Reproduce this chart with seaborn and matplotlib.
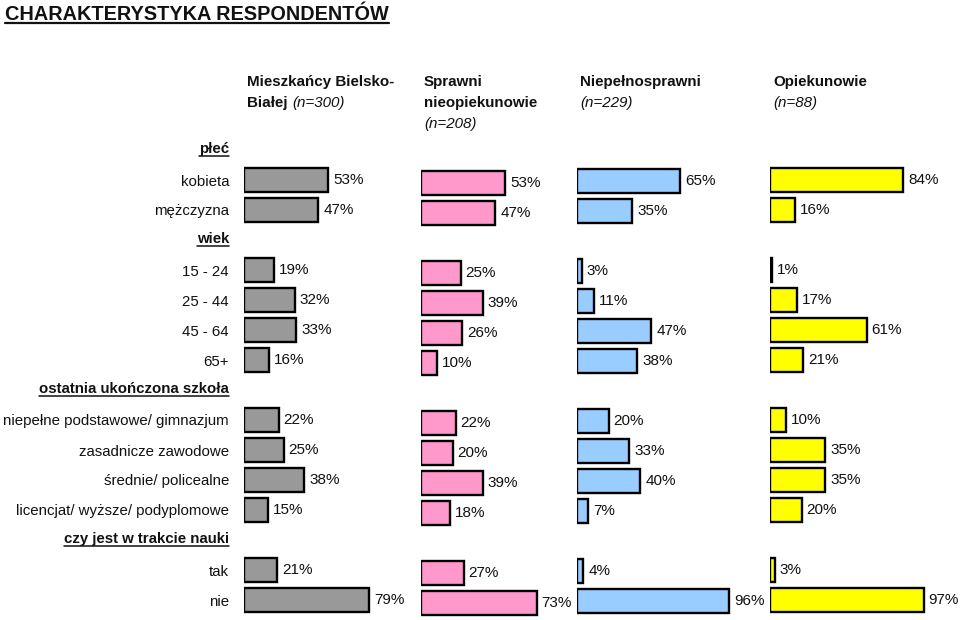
import matplotlib
matplotlib.use("Agg")
import matplotlib.pyplot as plt
import seaborn as sns
import pandas as pd
from matplotlib.lines import Line2D

sns.set_style("white")
plt.rcParams['font.family'] = ['Liberation Sans', 'DejaVu Sans']

# ---------------- data ----------------
title = "CHARAKTERYSTYKA RESPONDENTÓW"
rows = ['płeć', 'kobieta', 'mężczyzna',
        'wiek', '15 - 24', '25 - 44', '45 - 64', '65+',
        'ostatnia ukończona szkoła', 'niepełne podstawowe/ gimnazjum',
        'zasadnicze zawodowe', 'średnie/ policealne',
        'licencjat/ wyższe/ podyplomowe',
        'czy jest w trakcie nauki', 'tak', 'nie']
headers = ['płeć', 'wiek', 'ostatnia ukończona szkoła', 'czy jest w trakcie nauki']

group_titles = [["Mieszkańcy Bielsko-", "Białej"],
                ["Sprawni", "nieopiekunowie"],
                ["Niepełnosprawni"],
                ["Opiekunowie"]]
group_n = ["(n=300)", "(n=208)", "(n=229)", "(n=88)"]

plec = [[53, 47], [53, 47], [65, 35], [84, 16]]
wiek = [[19, 32, 33, 16], [25, 39, 26, 10], [3, 11, 47, 38], [1, 17, 61, 21]]
szkola = [[22, 25, 38, 15], [22, 20, 39, 18], [20, 33, 40, 7], [10, 35, 35, 20]]
nauka = [[21, 79], [27, 73], [4, 96], [3, 97]]

colors = ['#999999', '#FF99CC', '#99CCFF', '#FFFF00']

# ---------------- layout ----------------
W, H = 960, 620
fig = plt.figure(figsize=(W / 100, H / 100), dpi=100)

x_starts = [244, 421, 577, 770]
y_shift = [0, 3, 1, 0]
scale_w = 158.5          # pixels for 100 %
row_h = 30
top_row_center = 150
TXT = '#111111'


def add_px_axes(x0, ytop, w, h):
    return fig.add_axes([x0 / W, 1 - (ytop + h) / H, w / W, h / H])


cat_groups = [rows[1:3], rows[4:8], rows[9:13], rows[14:16]]
axes = []
for gi in range(4):
    vals = plec[gi] + wiek[gi] + szkola[gi] + nauka[gi]
    cats = sum(cat_groups, [])
    df = pd.DataFrame({'row': cats, 'value': vals})
    ax = add_px_axes(x_starts[gi], top_row_center - row_h / 2 + y_shift[gi],
                     scale_w, row_h * len(rows))
    sns.barplot(data=df, y='row', x='value', order=rows, orient='h', ax=ax,
                color=colors[gi], saturation=1, edgecolor='black',
                linewidth=1.7, width=0.8)
    ax.set_xlim(0, 100)
    ax.set_ylim(len(rows) - 0.5, -0.5)
    ax.set_xlabel('')
    ax.set_ylabel('')
    ax.set_xticks([])
    ax.set_yticks([])
    for s in ax.spines.values():
        s.set_visible(False)
    ax.patch.set_alpha(0)
    for cont in ax.containers:
        ax.bar_label(cont, labels=[f"{int(round(b.get_width()))}%" for b in cont],
                     padding=3.5, fontsize=11, color=TXT, clip_on=False)
    axes.append(ax)

ax0 = axes[0]
tr = ax0.get_yaxis_transform()
lab_x = -15 / scale_w
header_texts = []
for i, r in enumerate(rows):
    if r in headers:
        t = ax0.text(lab_x, i + 0.1, r, transform=tr, ha='right', va='baseline',
                     fontsize=10.8, fontweight='bold', color=TXT)
        header_texts.append(t)
    else:
        ax0.text(lab_x, i, r, transform=tr, ha='right', va='center_baseline',
                 fontsize=10.8, color=TXT)

# title
t_title = fig.text(5 / W, 1 - 20 / H, title, fontsize=14.3, fontweight='bold',
                   ha='left', va='baseline', color=TXT)

# column headers
HF = 10.9
for gi in range(4):
    x = (x_starts[gi] + 3) / W
    lines = group_titles[gi]
    y0 = 86
    last = None
    for li, ln in enumerate(lines):
        last = fig.text(x, 1 - (y0 + 21 * li) / H, ln, fontsize=HF,
                        fontweight='bold', ha='left', va='baseline', color=TXT)
    if gi == 0:
        fig.canvas.draw()
        bb = last.get_window_extent(fig.canvas.get_renderer())
        fig.text((bb.x1 + 5) / W, 1 - (y0 + 21) / H, group_n[gi], fontsize=HF,
                 style='italic', ha='left', va='baseline', color=TXT)
    else:
        fig.text(x, 1 - (y0 + 21 * len(lines)) / H, group_n[gi], fontsize=HF,
                 style='italic', ha='left', va='baseline', color=TXT)

# underlines
fig.canvas.draw()
renderer = fig.canvas.get_renderer()


def underline(t, lw, gap):
    bb = t.get_window_extent(renderer)
    bx, by = t.get_transform().transform(t.get_position())
    yl = (by - gap) / H
    fig.add_artist(Line2D([bb.x0 / W, bb.x1 / W], [yl, yl], color=TXT,
                          lw=lw, transform=fig.transFigure))


underline(t_title, 1.6, 3)
for t in header_texts:
    underline(t, 1.1, 2.5)

fig.savefig('out.png', dpi=100, facecolor='white')
